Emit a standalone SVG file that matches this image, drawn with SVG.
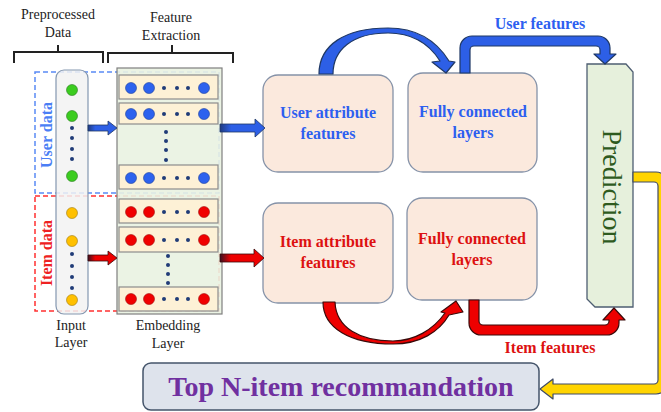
<svg xmlns="http://www.w3.org/2000/svg" width="661" height="412" viewBox="0 0 661 412">
  <defs>
    <linearGradient id="gBlue" x1="0" y1="0" x2="1" y2="0">
      <stop offset="0" stop-color="#1f3a80"/>
      <stop offset="0.25" stop-color="#2d5fe6"/>
      <stop offset="1" stop-color="#2d5fe6"/>
    </linearGradient>
    <linearGradient id="gRed" x1="0" y1="0" x2="1" y2="0">
      <stop offset="0" stop-color="#3a1020"/>
      <stop offset="0.25" stop-color="#ee0000"/>
      <stop offset="1" stop-color="#ee0000"/>
    </linearGradient>
  </defs>
  <style>
    .lbl { font-family: "Liberation Serif", "Times New Roman", serif; font-size: 14px; fill: #222; text-anchor: middle; }
    .bracket { fill: none; stroke: #222; stroke-width: 2; }
    .box { fill: #fbe9dd; stroke: #8592a8; stroke-width: 1.3; }
    .btxt { font-family: "Liberation Serif", "Times New Roman", serif; font-size: 16px; font-weight: bold; text-anchor: middle; }
    .blue { fill: #2d5ff0; }
    .red { fill: #dd1111; }
    .row { fill: #fdf1d6; stroke: #8c8c8c; stroke-width: 1.2; }
    .cb { fill: #2d62ee; stroke: #1f3f9a; stroke-width: 0.6; }
    .cr { fill: #f00000; stroke: #a01010; stroke-width: 0.6; }
    .cg { fill: #3bcc1f; stroke: #2a7a22; stroke-width: 0.6; }
    .cy { fill: #ffc000; stroke: #a07a10; stroke-width: 0.6; }
    .dot { fill: #203c78; }
    .arrB { fill: #2d5fe6; stroke: #1f3864; stroke-width: 1.2; stroke-linejoin: round; }
    .arrR { fill: #ee0000; stroke: #3a0a0a; stroke-width: 1.2; stroke-linejoin: round; }
    .arrY { fill: #ffd400; stroke: #3e4a66; stroke-width: 1.2; stroke-linejoin: round; }
  </style>

  <!-- header labels and brackets -->
  <g id="header">
    <text class="lbl" x="58" y="19">Preprocessed</text>
    <text class="lbl" x="58" y="37">Data</text>
    <text class="lbl" x="171" y="22">Feature</text>
    <text class="lbl" x="171" y="40">Extraction</text>
    <path class="bracket" d="M14,63 V52 H103 V63 M58,52 V45"/>
    <path class="bracket" d="M108,63 V53 H233 V63 M172,53 V45"/>
  </g>

  <!-- user / item data groupings -->
  <g id="user-data">
    <rect x="35" y="72" width="184" height="121" fill="none" stroke="#5a8af5" stroke-width="1.5" stroke-dasharray="5 3"/>
    <text transform="translate(52,135) rotate(-90)" font-family="Liberation Serif, serif" font-size="16" font-weight="bold" fill="#4a7ef5" text-anchor="middle">User data</text>
  </g>
  <g id="item-data">
    <rect x="35" y="196" width="184" height="115" fill="none" stroke="#ff3030" stroke-width="1.5" stroke-dasharray="5 3"/>
    <text transform="translate(52,253) rotate(-90)" font-family="Liberation Serif, serif" font-size="16" font-weight="bold" fill="#ee2222" text-anchor="middle">Item data</text>
  </g>

  <!-- input layer -->
  <g id="input-layer">
    <rect x="56" y="70" width="32" height="244" rx="8" fill="#f2f2f2" fill-opacity="0.85" stroke="#8497b0" stroke-width="1.2"/>
    <circle class="cg" cx="72" cy="90" r="5.5"/>
    <circle class="cg" cx="72" cy="116" r="5.5"/>
    <circle class="dot" cx="72" cy="128" r="2"/>
    <circle class="dot" cx="72" cy="138" r="2"/>
    <circle class="dot" cx="72" cy="149" r="2"/>
    <circle class="dot" cx="72" cy="159" r="2"/>
    <circle class="cg" cx="72" cy="176" r="5.5"/>
    <circle class="cy" cx="72" cy="213" r="5.5"/>
    <circle class="cy" cx="72" cy="241" r="5.5"/>
    <circle class="dot" cx="72" cy="254" r="2"/>
    <circle class="dot" cx="72" cy="266" r="2"/>
    <circle class="dot" cx="72" cy="277" r="2"/>
    <circle class="dot" cx="72" cy="288" r="2"/>
    <circle class="cy" cx="72" cy="300" r="5.5"/>
    <text class="lbl" x="71" y="330">Input</text>
    <text class="lbl" x="71" y="347">Layer</text>
  </g>

  <!-- embedding layer -->
  <g id="embedding-layer">
    <rect x="117" y="68" width="105" height="246" fill="#e9f2e1" fill-opacity="0.9" stroke="#7f7f7f" stroke-width="1.2"/>
    <rect class="row" x="119" y="75" width="99" height="24"/>
    <rect class="row" x="119" y="103" width="99" height="21"/>
    <rect class="row" x="119" y="165" width="99" height="24"/>
    <g>
      <circle class="cb" cx="131" cy="88" r="5.5"/><circle class="cb" cx="149" cy="88" r="5.5"/>
      <circle class="dot" cx="164" cy="88" r="2"/><circle class="dot" cx="177" cy="88" r="2"/><circle class="dot" cx="188" cy="88" r="2"/>
      <circle class="cb" cx="204" cy="88" r="5.5"/>
      <circle class="cb" cx="131" cy="114" r="5.5"/><circle class="cb" cx="149" cy="114" r="5.5"/>
      <circle class="dot" cx="164" cy="114" r="2"/><circle class="dot" cx="177" cy="114" r="2"/><circle class="dot" cx="188" cy="114" r="2"/>
      <circle class="cb" cx="204" cy="114" r="5.5"/>
      <circle class="dot" cx="166" cy="132" r="2"/><circle class="dot" cx="166" cy="141" r="2"/>
      <circle class="dot" cx="166" cy="150" r="2"/><circle class="dot" cx="166" cy="160" r="2"/>
      <circle class="cb" cx="131" cy="178" r="5.5"/><circle class="cb" cx="149" cy="178" r="5.5"/>
      <circle class="dot" cx="164" cy="178" r="2"/><circle class="dot" cx="177" cy="178" r="2"/><circle class="dot" cx="188" cy="178" r="2"/>
      <circle class="cb" cx="204" cy="178" r="5.5"/>
    </g>
    <rect class="row" x="119" y="199" width="99" height="24"/>
    <rect class="row" x="119" y="227" width="99" height="25"/>
    <rect class="row" x="119" y="287" width="99" height="24"/>
    <g>
      <circle class="cr" cx="131" cy="212" r="5.5"/><circle class="cr" cx="149" cy="212" r="5.5"/>
      <circle class="dot" cx="164" cy="212" r="2"/><circle class="dot" cx="177" cy="212" r="2"/><circle class="dot" cx="188" cy="212" r="2"/>
      <circle class="cr" cx="204" cy="212" r="5.5"/>
      <circle class="cr" cx="131" cy="240" r="5.5"/><circle class="cr" cx="149" cy="240" r="5.5"/>
      <circle class="dot" cx="164" cy="240" r="2"/><circle class="dot" cx="177" cy="240" r="2"/><circle class="dot" cx="188" cy="240" r="2"/>
      <circle class="cr" cx="204" cy="240" r="5.5"/>
      <circle class="dot" cx="168" cy="256" r="2"/><circle class="dot" cx="168" cy="265" r="2"/>
      <circle class="dot" cx="168" cy="274" r="2"/><circle class="dot" cx="168" cy="283" r="2"/>
      <circle class="cr" cx="131" cy="299" r="5.5"/><circle class="cr" cx="149" cy="299" r="5.5"/>
      <circle class="dot" cx="164" cy="299" r="2"/><circle class="dot" cx="177" cy="299" r="2"/><circle class="dot" cx="188" cy="299" r="2"/>
      <circle class="cr" cx="204" cy="299" r="5.5"/>
    </g>
    <text class="lbl" x="168" y="330">Embedding</text>
    <text class="lbl" x="168" y="348">Layer</text>
  </g>

  <!-- processing blocks -->
  <g id="user-attr">
    <rect class="box" x="263" y="75" width="130" height="97" rx="15"/>
    <text class="btxt blue" x="328" y="118">User attribute</text>
    <text class="btxt blue" x="328" y="139">features</text>
  </g>
  <g id="user-fc">
    <rect class="box" x="408" y="73" width="129" height="99" rx="15"/>
    <text class="btxt blue" x="473" y="117">Fully connected</text>
    <text class="btxt blue" x="473" y="138">layers</text>
  </g>
  <g id="item-attr">
    <rect class="box" x="263" y="203" width="130" height="100" rx="15"/>
    <text class="btxt red" x="328" y="247">Item attribute</text>
    <text class="btxt red" x="328" y="268">features</text>
  </g>
  <g id="item-fc">
    <rect class="box" x="407" y="198" width="130" height="102" rx="15"/>
    <text class="btxt red" x="472" y="244">Fully connected</text>
    <text class="btxt red" x="472" y="265">layers</text>
  </g>

  <g id="prediction">
    <path d="M587,64 L626,64 L633,72 L633,307 L595,307 L587,299 Z" fill="#e6f0dc" stroke="#4e5e72" stroke-width="1.3"/>
    <text transform="translate(603,187) rotate(90)" font-family="Liberation Serif, serif" font-size="28" fill="#2e5a1e" text-anchor="middle">Prediction</text>
  </g>

  <g id="top-n">
    <rect x="143" y="363" width="396" height="47" rx="8" fill="#dee3ec" stroke="#44546a" stroke-width="1.5"/>
    <text x="341" y="396" font-family="Liberation Serif, serif" font-size="28" font-weight="bold" fill="#7030a0" text-anchor="middle">Top N-item recommandation</text>
  </g>

  <!-- connectors -->
  <g id="connectors">
    <!-- input layer to embedding layer -->
    <path d="M88,125 L108,125 L108,121 L117,128 L108,135 L108,131 L88,131 Z" fill="url(#gBlue)" stroke="#1f3864" stroke-width="0.8"/>
    <path d="M88,255 L108,255 L108,251 L117,258 L108,265 L108,261 L88,261 Z" fill="url(#gRed)" stroke="#3a0a0a" stroke-width="0.8"/>
    <!-- embedding layer to attribute blocks -->
    <path d="M220,124 L255,124 L255,119 L265,128 L255,137 L255,132 L220,132 Z" fill="url(#gBlue)" stroke="#1f3864" stroke-width="0.8"/>
    <path d="M220,254 L254,254 L254,249 L264,258 L254,267 L254,262 L220,262 Z" fill="url(#gRed)" stroke="#3a0a0a" stroke-width="0.8"/>
    <!-- curved arrow over the user blocks -->
    <path class="arrB" d="M319,74 C319,45 345,28 388,28 C415,28 436,40 449,61 L455,62 L446,73 L432,62 L440,61 C428,42 410,33 388,33 C352,33 333,50 333,74 Z"/>
    <!-- curved arrow under the item blocks -->
    <path class="arrR" d="M323,302 C323,328 350,344 393,344 C420,344 439,332 449,315 L463,312 L456,301 L441,312 L445,313 C433,330 414,341 393,341 C360,341 336,328 335,302 Z"/>
    <!-- user features to prediction -->
    <path class="arrB" d="M460,73 L460,48 A12,12 0 0 1 472,36 L598,36 A12,12 0 0 1 610,48 L610,54 L616,54 L605,64 L594,54 L600,54 L600,50 A4,4 0 0 0 596,46 L474,46 A4,4 0 0 0 470,50 L470,73 Z"/>
    <!-- item features to prediction -->
    <path class="arrR" d="M469,300 L469,323 A12,12 0 0 0 481,335 L607,335 A12,12 0 0 0 619,323 L619,320 L625,320 L614,308 L603,320 L609,320 L609,321 A4,4 0 0 1 605,325 L483,325 A4,4 0 0 1 479,321 L479,300 Z"/>
    <!-- prediction to top-N recommendation -->
    <path class="arrY" d="M633,172 L656,172 A12,12 0 0 1 668,184 L668,382 A12,12 0 0 1 656,394 L553,394 L553,399 L540,389 L553,379 L553,384 L654,384 A4,4 0 0 0 658,380 L658,186 A4,4 0 0 0 654,182 L633,182 Z"/>
    <text x="540" y="29" font-family="Liberation Serif, serif" font-size="16" font-weight="bold" fill="#2d5ff0" text-anchor="middle">User features</text>
    <text x="550" y="353" font-family="Liberation Serif, serif" font-size="16" font-weight="bold" fill="#dd1111" text-anchor="middle">Item features</text>
  </g>
</svg>
